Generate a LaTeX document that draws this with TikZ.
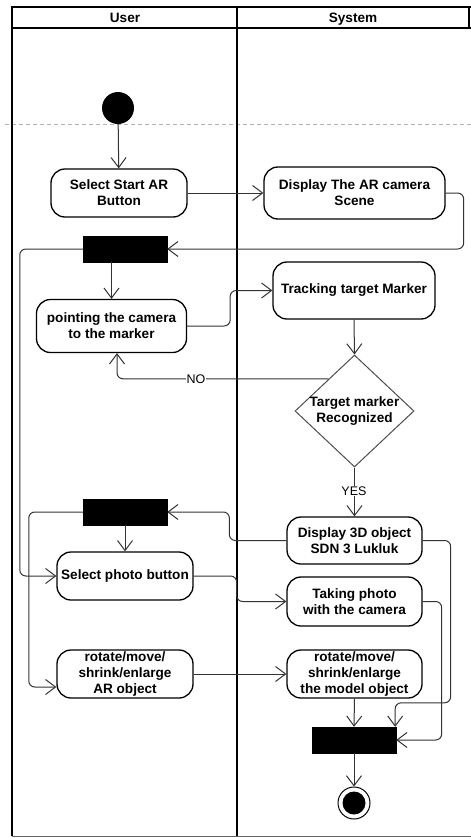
\documentclass[tikz,border=0pt]{standalone}
\usepackage{fontspec}
\setmainfont{Liberation Sans}
\usetikzlibrary{arrows.meta,shapes.geometric,calc}
\begin{document}
\begin{tikzpicture}[x=1pt,y=-1pt,
  font=\fontsize{13.6}{16}\selectfont\bfseries,
  act/.style={draw=black,line width=1.3pt,rounded corners=14pt,align=center,inner sep=0pt},
  bar/.style={fill=black,draw=black,minimum width=84pt,minimum height=26pt,inner sep=0pt},
  flow/.style={draw=black!80,line width=1pt,rounded corners=6pt,-{Straight Barb[length=10pt,width=15pt]}},
  guard/.style={fill=white,inner sep=1pt,font=\fontsize{12.5}{14}\selectfont},
  lane/.style={line width=2pt,draw=black},
  header/.style={anchor=base,inner sep=0pt}
]
\useasboundingbox (0,0) rectangle (471,838);

% partition line
\draw[black!30,line width=0.8pt,dash pattern=on 4pt off 3pt] (5,124) -- (471,124);

% swimlanes
\draw[lane] (12,836) -- (12,7) -- (471,7);
\draw[lane] (12,28) -- (471,28);
\draw[lane] (469,7) -- (469,28);
\draw[lane] (237,7) -- (237,836);
\draw[line width=1.5pt,black!60] (12,836.5) -- (471,836.5);
\node[header] (hUser) at (125,22.5) {User};
\node[header] (hSystem) at (353,22.5) {System};

% activity nodes
\node[circle,fill=black,minimum size=32pt,inner sep=0pt] (start) at (118,108) {};
\node[act,minimum width=136pt,minimum height=48pt] (a1) at (119,193) {Select Start AR\\Button};
\node[act,minimum width=181pt,minimum height=52pt] (s1) at (354.5,193) {Display The AR camera\\Scene};
\node[bar] (bar1) at (125,249) {};
\node[act,minimum width=150pt,minimum height=53pt] (a2) at (111.5,326) {pointing the camera\\to the marker};
\node[act,minimum width=162pt,minimum height=57pt] (s2) at (354,290.5) {Tracking target Marker};
\node[diamond,draw=black!70,line width=1pt,minimum width=119pt,minimum height=112pt,inner sep=0pt] (dec) at (354.5,411) {};
\node[align=center] (dectext) at (dec.center) {Target marker\\Recognized};
\node[act,minimum width=135pt,minimum height=47pt] (s3) at (354.5,540.5) {Display 3D object\\SDN 3 Lukluk};
\node[bar] (bar2) at (125,512) {};
\node[act,minimum width=136pt,minimum height=48pt] (a3) at (125,576) {Select photo button};
\node[act,minimum width=135pt,minimum height=49pt] (s4) at (354.5,601.5) {Taking photo\\with the camera};
\node[act,minimum width=136pt,minimum height=48pt] (a4) at (125,674) {rotate/move/\\shrink/enlarge\\AR object};
\node[act,minimum width=135pt,minimum height=48pt] (s5) at (354.5,674) {rotate/move/\\shrink/enlarge\\the model object};
\node[bar] (bar3) at (354,740) {};
\node[circle,draw=black,line width=1pt,minimum size=32pt,inner sep=0pt] (end) at (354,803) {};
\node[circle,fill=black,minimum size=23pt,inner sep=0pt] (endcore) at (end.center) {};

% control flows
\draw[flow] (start) -- (a1);
\draw[flow] (a1.east) -- (s1.west);
\draw[flow] (s1.east) -- ++(18,0) |- (bar1.east);
\draw[flow] (bar1.west) -- ++(-63,0) |- (a3.west);
\draw[flow] (a2.north |- bar1.south) -- (a2.north);
\draw[flow] (a2.east) -- ++(43,0) |- (s2.west);
\draw[flow] (s2.south) -- (dec.north);
\draw[flow] ($(dec.north)!0.43!(dec.west)$) -| ($(a2.south)+(5.5,0)$);
\node[guard] (lblno) at (196,379) {NO};
\draw[flow] (dec.south) -- (s3.north);
\node[guard] (lblyes) at (354,491) {YES};
\draw[flow] (s3.west) -- ++(-57,0) |- (bar2.east);
\draw[flow] (bar2.west) -- ++(-54,0) |- ($(a4.west)+(0,13)$);
\draw[flow] (bar2.south) -- (a3.north);
\draw[flow] (a3.east) -- ++(43,0) |- (s4.west);
\draw[flow] (a4.east) -- (s5.west);
\draw[flow] (s5.south) -- (bar3.north);
\draw[flow] (s3.east) -- ++(28,0) |- ($(bar3.north east)+(-1,-24)$) -- ($(bar3.north east)+(-1,0)$);
\draw[flow] (s4.east) -- ++(19,0) |- (bar3.east);
\draw[flow] (bar3.south) -- (end.north);
\end{tikzpicture}
\end{document}
